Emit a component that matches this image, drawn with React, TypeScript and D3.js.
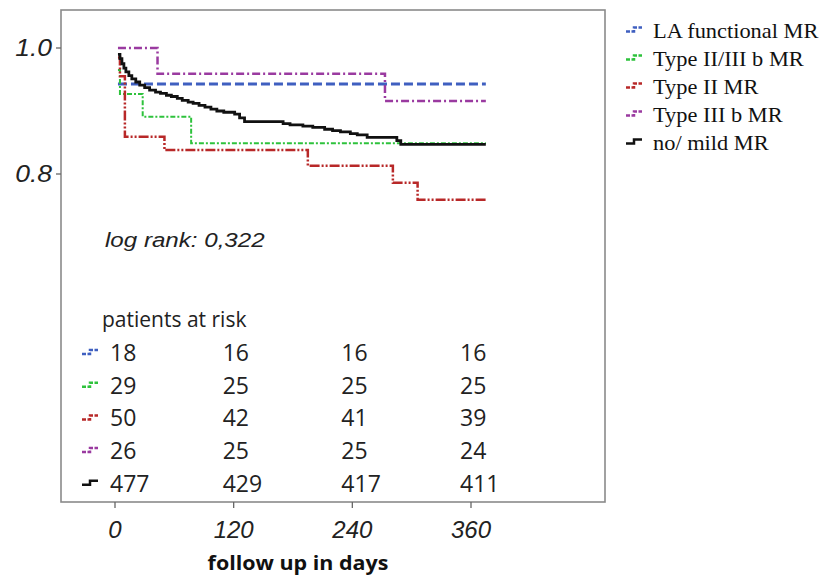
import React from "react";
import * as d3 from "d3";

// survival curves: step times (days) and survival values
const endDay = 375;

const laTimes = [3];
const laValues = [0.943];

const type23bTimes = [3, 5, 28, 77];
const type23bValues = [0.965, 0.927, 0.891, 0.849];

const type2Times = [3, 5, 10, 50, 195, 281, 306];
const type2Values = [0.985, 0.955, 0.859, 0.838, 0.813, 0.786, 0.759];

const type3bTimes = [3, 43, 273];
const type3bValues = [1.0, 0.959, 0.916];

const mildTimes = [
  3, 5, 7, 9, 11, 14, 17, 21, 25, 30, 35, 41, 46, 52, 57, 63, 68, 74, 79, 85,
  91, 97, 103, 110, 121, 126, 131, 170, 177, 190, 200, 212, 220, 228, 238, 245,
  255, 285, 289,
];
const mildValues = [
  0.99, 0.983, 0.975, 0.968, 0.962, 0.956, 0.951, 0.946, 0.941, 0.937, 0.933,
  0.93, 0.928, 0.925, 0.923, 0.92, 0.917, 0.914, 0.912, 0.909, 0.906, 0.903,
  0.9, 0.898, 0.895, 0.889, 0.883, 0.88, 0.878, 0.876, 0.874, 0.871, 0.869,
  0.867, 0.864, 0.862, 0.858, 0.853, 0.847,
];

const seriesNames = [
  "LA functional MR",
  "Type II/III b MR",
  "Type II MR",
  "Type III b MR",
  "no/ mild MR",
];

const riskDays = [0, 120, 240, 360];
const riskLA = [18, 16, 16, 16];
const riskType23b = [29, 25, 25, 25];
const riskType2 = [50, 42, 41, 39];
const riskType3b = [26, 25, 25, 24];
const riskMild = [477, 429, 417, 411];

const xTicks = [0, 120, 240, 360];
const yTicks = [1.0, 0.8];

const series = [
  { times: laTimes, values: laValues, risk: riskLA, color: "#3f5fc0", width: 3, dash: "9,4" },
  { times: type23bTimes, values: type23bValues, risk: riskType23b, color: "#2ec23c", width: 2, dash: "5,2,2,2" },
  { times: type2Times, values: type2Values, risk: riskType2, color: "#b82828", width: 2.5, dash: "10,2,2,2,2,2" },
  { times: type3bTimes, values: type3bValues, risk: riskType3b, color: "#9a3aa0", width: 2.5, dash: "8,3,2,3" },
  { times: mildTimes, values: mildValues, risk: riskMild, color: "#111111", width: 2.8, dash: "none" },
];

const x = d3.scaleLinear().domain([0, 360]).range([115, 471]);
const y = d3.scaleLinear().domain([1.0, 0.8]).range([48, 174]);

const frame = { left: 61, top: 10, right: 605, bottom: 502 };

const line = d3
  .line<[number, number]>()
  .x((d) => x(d[0]))
  .y((d) => y(d[1]))
  .curve(d3.curveStepAfter);

const icon = "M0,4 H8 V0 H16";

export default function App() {
  return (
    <svg width={824} height={580} style={{ position: "absolute", left: 0, top: 0, background: "#fff" }}>
      <rect
        x={frame.left}
        y={frame.top}
        width={frame.right - frame.left}
        height={frame.bottom - frame.top}
        fill="none"
        stroke="#8a8a8a"
        strokeWidth={1.6}
      />
      {/* y axis */}
      {yTicks.map((t) => (
        <g key={t}>
          <line x1={frame.left - 5} x2={frame.left} y1={y(t)} y2={y(t)} stroke="#666" strokeWidth={1.3} />
          <text
            transform={`translate(52,${y(t) + 8}) scale(1.15,1)`}
            textAnchor="end"
            fontFamily="Liberation Sans, Arial, sans-serif"
            fontStyle="italic"
            fontSize={23}
            fill="#222"
          >
            {t.toFixed(1)}
          </text>
        </g>
      ))}
      {/* x axis */}
      {xTicks.map((t) => (
        <g key={t}>
          <line x1={x(t)} x2={x(t)} y1={frame.bottom} y2={frame.bottom + 6} stroke="#666" strokeWidth={1.3} />
          <text
            x={x(t)}
            y={538}
            textAnchor="middle"
            fontFamily="Liberation Sans, Arial, sans-serif"
            fontStyle="italic"
            fontSize={24}
            fill="#222"
          >
            {t}
          </text>
        </g>
      ))}
      <text
        transform="translate(298,570) scale(1.13,1)"
        textAnchor="middle"
        fontFamily="Open Sans, sans-serif"
        fontWeight="bold"
        fontSize={19}
        fill="#111"
      >
        follow up in days
      </text>

      {/* curves */}
      {series.map((s, i) => {
        const pts: [number, number][] = s.times.map((t, j) => [t, s.values[j]]);
        pts.push([endDay, s.values[s.values.length - 1]]);
        return (
          <path
            key={i}
            d={line(pts) || ""}
            fill="none"
            stroke={s.color}
            strokeWidth={s.width}
            strokeDasharray={s.dash}
          />
        );
      })}

      <text
        transform="translate(105,247) scale(1.15,1)"
        fontFamily="Liberation Sans, Arial, sans-serif"
        fontStyle="italic"
        fontSize={21}
        fill="#222"
      >
        log rank: 0,322
      </text>

      {/* patients at risk table */}
      <text x={102} y={327} fontFamily="Open Sans, sans-serif" fontSize={21} fill="#222">
        patients at risk
      </text>
      {series.map((s, i) => {
        const base = 361 + i * 32.7;
        return (
          <g key={i}>
            <path
              d={icon}
              transform={`translate(82,${base - 11})`}
              fill="none"
              stroke={s.color}
              strokeWidth={2.5}
              strokeDasharray={s.dash === "none" ? "none" : "4,1.5"}
            />
            {s.risk.map((n, j) => (
              <text
                key={j}
                x={j === 0 ? x(riskDays[j]) - 5 : x(riskDays[j]) - 11}
                y={base}
                fontFamily="Open Sans, sans-serif"
                fontSize={23}
                fill="#222"
              >
                {n}
              </text>
            ))}
          </g>
        );
      })}

      {/* legend */}
      {series.map((s, i) => {
        const base = 37.5 + i * 28;
        return (
          <g key={i}>
            <path
              d={icon}
              transform={`translate(626,${base - 10})`}
              fill="none"
              stroke={s.color}
              strokeWidth={2.5}
              strokeDasharray={s.dash === "none" ? "none" : "4,1.5"}
            />
            <text
              transform={`translate(653,${base}) scale(1.12,1)`}
              fontFamily="Liberation Serif, Times New Roman, serif"
              fontSize={20}
              fill="#111"
            >
              {seriesNames[i]}
            </text>
          </g>
        );
      })}
    </svg>
  );
}
